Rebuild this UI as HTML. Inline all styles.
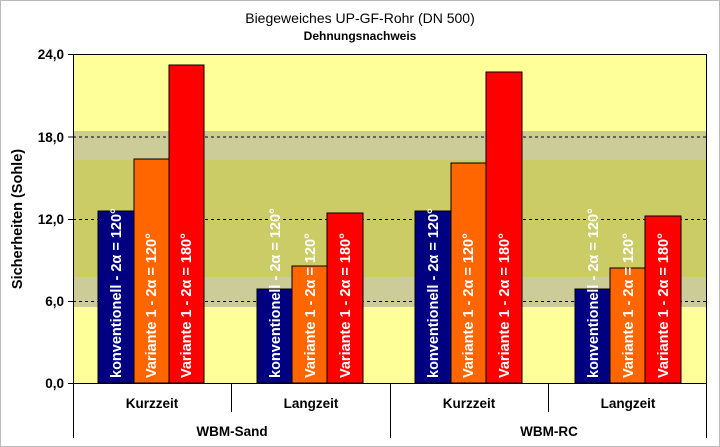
<!DOCTYPE html>
<html><head><meta charset="utf-8"><style>
html,body{margin:0;padding:0;background:#fff;}
svg{display:block;font-family:"Liberation Sans",Arial,sans-serif;}
</style></head><body>
<svg width="720" height="447" viewBox="0 0 720 447" xmlns="http://www.w3.org/2000/svg">
<rect x="0.5" y="0.5" width="719" height="446" fill="#fff" stroke="#777" stroke-dasharray="1,1"/>
<text x="360" y="23" text-anchor="middle" font-size="14">Biegeweiches UP-GF-Rohr (DN 500)</text>
<text x="360" y="40" text-anchor="middle" font-size="12" font-weight="bold">Dehnungsnachweis</text>
<rect x="73" y="54" width="634" height="329" fill="#FFFF99"/>
<rect x="73" y="131" width="634" height="176" fill="#CCCC99"/>
<rect x="73" y="160" width="634" height="117" fill="#CCCC66"/>
<g stroke="#000" stroke-dasharray="3,3" stroke-width="1">
<line x1="73" y1="137" x2="707" y2="137"/>
<line x1="73" y1="219.5" x2="707" y2="219.5"/>
<line x1="73" y1="301.5" x2="707" y2="301.5"/>
</g>
<g stroke="#000" stroke-width="1">
<rect x="98" y="211" width="36" height="172" fill="#000080"/>
<rect x="134" y="159" width="35" height="224" fill="#FF6600"/>
<rect x="169" y="65" width="35" height="318" fill="#FF0000"/>
<rect x="257" y="289" width="35" height="94" fill="#000080"/>
<rect x="292" y="266" width="35" height="117" fill="#FF6600"/>
<rect x="327" y="213" width="36" height="170" fill="#FF0000"/>
<rect x="415" y="211" width="36" height="172" fill="#000080"/>
<rect x="451" y="163" width="35" height="220" fill="#FF6600"/>
<rect x="486" y="72" width="36" height="311" fill="#FF0000"/>
<rect x="575" y="289" width="35" height="94" fill="#000080"/>
<rect x="610" y="268" width="35" height="115" fill="#FF6600"/>
<rect x="645" y="216" width="36" height="167" fill="#FF0000"/>
</g>
<g fill="#fff" font-size="14.5" font-weight="bold">
<text transform="translate(121,378) rotate(-90)">konventionell - 2α = 120°</text>
<text transform="translate(156,378) rotate(-90)">Variante 1 - 2α = 120°</text>
<text transform="translate(191,378) rotate(-90)">Variante 1 - 2α = 180°</text>
<text transform="translate(280,378) rotate(-90)">konventionell - 2α = 120°</text>
<text transform="translate(315,378) rotate(-90)">Variante 1 - 2α = 120°</text>
<text transform="translate(350,378) rotate(-90)">Variante 1 - 2α = 180°</text>
<text transform="translate(438,378) rotate(-90)">konventionell - 2α = 120°</text>
<text transform="translate(473,378) rotate(-90)">Variante 1 - 2α = 120°</text>
<text transform="translate(509,378) rotate(-90)">Variante 1 - 2α = 180°</text>
<text transform="translate(598,378) rotate(-90)">konventionell - 2α = 120°</text>
<text transform="translate(633,378) rotate(-90)">Variante 1 - 2α = 120°</text>
<text transform="translate(668,378) rotate(-90)">Variante 1 - 2α = 180°</text>
</g>
<g stroke="#000" stroke-width="1">
<line x1="73.5" y1="54" x2="73.5" y2="438"/>
<line x1="73" y1="54.5" x2="707" y2="54.5"/>
<line x1="706.5" y1="54" x2="706.5" y2="438"/>
<line x1="68" y1="383.5" x2="707" y2="383.5"/>
<line x1="68" y1="54.5" x2="73" y2="54.5"/>
<line x1="68" y1="137" x2="73" y2="137"/>
<line x1="68" y1="219.5" x2="73" y2="219.5"/>
<line x1="68" y1="301.5" x2="73" y2="301.5"/>
<line x1="231.5" y1="383" x2="231.5" y2="412"/>
<line x1="390.5" y1="383" x2="390.5" y2="438"/>
<line x1="548.5" y1="383" x2="548.5" y2="412"/>
</g>
<g font-size="13.5" font-weight="bold" text-anchor="end">
<text x="64" y="59">24,0</text>
<text x="64" y="142">18,0</text>
<text x="64" y="224">12,0</text>
<text x="64" y="306">6,0</text>
<text x="64" y="388">0,0</text>
</g>
<text transform="translate(22,219) rotate(-90)" text-anchor="middle" font-size="14.5" font-weight="bold">Sicherheiten (Sohle)</text>
<g font-size="13.5" font-weight="bold" text-anchor="middle">
<text x="152" y="408">Kurzzeit</text>
<text x="311" y="408">Langzeit</text>
<text x="469" y="408">Kurzzeit</text>
<text x="628" y="408">Langzeit</text>
<text x="232" y="436">WBM-Sand</text>
<text x="549" y="436">WBM-RC</text>
</g>
</svg>
</body></html>
